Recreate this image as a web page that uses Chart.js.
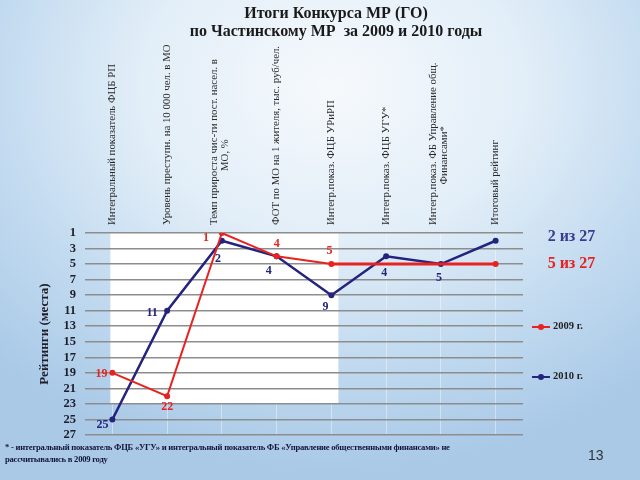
<!DOCTYPE html>
<html>
<head>
<meta charset="utf-8">
<script src="https://cdn.jsdelivr.net/npm/chart.js@4/dist/chart.umd.min.js"></script>
<style>
html,body{margin:0;padding:0;}
body{width:640px;height:480px;overflow:hidden;position:relative;
background:radial-gradient(ellipse 75% 80% at 52% 18%, #f6f9fc 0%, #e2eef8 40%, #c3dbf0 70%, #a9c9e7 100%);
font-family:"Liberation Serif",serif;}
#wrap{position:absolute;left:0;top:0;width:640px;height:480px;}
#title{position:absolute;left:0;top:4px;width:672px;text-align:center;font:bold 16px/18px "Liberation Serif",serif;color:#1a1a1a;}
#foot{position:absolute;left:5px;top:441px;font:bold 8.6px/12px "Liberation Serif",serif;color:#14143c;letter-spacing:-0.25px;}
#page{position:absolute;left:588px;top:447px;font:14px "Liberation Sans",sans-serif;color:#333;}
.leg{position:absolute;left:532px;font:bold 10.5px "Liberation Serif",serif;color:#222;}
.leg i{position:absolute;left:0;top:6px;width:18px;height:2px;}
.leg b{position:absolute;left:6px;top:4px;width:6px;height:6px;border-radius:50%;}
.leg span{position:absolute;left:21px;top:0;white-space:nowrap;}
</style>
</head>
<body>
<div id="wrap"><canvas id="c" width="640" height="480"></canvas></div>
<div id="title">Итоги Конкурса МР (ГО)<br>по Частинскому МР&nbsp; за 2009 и 2010 годы</div>
<div class="leg" style="top:320px"><i style="background:#e8231f"></i><b style="background:#e8231f"></b><span>2009 г.</span></div>
<div class="leg" style="top:370px"><i style="background:#24237e"></i><b style="background:#24237e"></b><span>2010 г.</span></div>
<div id="foot">* - интегральный показатель ФЦБ «УГУ» и интегральный показатель ФБ «Управление общественными финансами» не<br>рассчитывались в 2009 году</div>
<div id="page">13</div>
<script>
const categories = [
  "Интегральный показатель ФЦБ РП",
  "Уровень преступн. на 10 000 чел. в МО",
  ["Темп прироста чис-ти пост. насел. в", "                    МО, %"],
  "ФОТ по МО на 1 жителя, тыс. руб/чел.",
  "Интегр.показ. ФЦБ УРиРП",
  "Интегр.показ. ФЦБ УГУ*",
  ["Интегр.показ. ФБ Управление общ.", "               Финансами*"],
  "Итоговый рейтинг"
];
const rank2009 = [19, 22, 1, 4, 5, null, null, 5];
const rank2010 = [25, 11, 2, 4, 9, 4, 5, 2];
const yTicks = [1, 3, 5, 7, 9, 11, 13, 15, 17, 19, 21, 23, 25, 27];
const finalLabel2009 = "5 из 27";
const finalLabel2010 = "2 из 27";

const RED = '#e8231f', BLUE = '#24237e';

const whiteArea = {
  id: 'whiteArea',
  beforeDraw(chart) {
    const {ctx, chartArea, scales} = chart;
    const x0 = scales.x.getPixelForValue(0) - 2;
    const x1 = scales.x.getPixelForValue(4) + 7;
    const y1 = scales.y.getPixelForValue(23);
    ctx.save();
    ctx.fillStyle = '#ffffff';
    ctx.fillRect(x0, chartArea.top, x1 - x0, y1 - chartArea.top);
    ctx.restore();
  }
};

const pointLabels = {
  id: 'pointLabels',
  afterDatasetsDraw(chart) {
    const {ctx} = chart;
    const off2009 = [[-11, 1], [0, 11], [-16, 5], [0, -12], [-2, -13], null, null, null];
    const off2010 = [[-10, 5], [-15, 2], [-4, 18], [-8, 15], [-6, 12], [-2, 17], [-2, 14], null];
    ctx.save();
    ctx.font = 'bold 12px "Liberation Serif", serif';
    ctx.textAlign = 'center';
    ctx.textBaseline = 'middle';
    [[0, off2009, RED, rank2009], [1, off2010, BLUE, rank2010]].forEach(([di, offs, col, vals]) => {
      const meta = chart.getDatasetMeta(di);
      ctx.fillStyle = col;
      meta.data.forEach((pt, i) => {
        if (vals[i] == null || !offs[i]) return;
        ctx.fillText(String(vals[i]), pt.x + offs[i][0], pt.y + offs[i][1]);
      });
    });
    ctx.font = 'bold 16px "Liberation Serif", serif';
    ctx.textAlign = 'left';
    const last = categories.length - 1;
    const p10 = chart.getDatasetMeta(1).data[last];
    const p09 = chart.getDatasetMeta(0).data[last];
    ctx.fillStyle = '#3b3a8f';
    ctx.fillText(finalLabel2010, p10.x + 52, p10.y - 4);
    ctx.fillStyle = RED;
    ctx.fillText(finalLabel2009, p09.x + 52, p09.y + 0);
    ctx.restore();
  }
};

new Chart(document.getElementById('c'), {
  type: 'line',
  data: {
    labels: categories,
    datasets: [
      {label: '2009 г.', data: rank2009, borderColor: RED, backgroundColor: RED,
       borderWidth: 2, pointRadius: 3, pointBackgroundColor: RED, pointBorderWidth: 0,
       spanGaps: true, tension: 0,
       segment: {borderWidth: c => (c.p0DataIndex >= 4 ? 3 : 2)}},
      {label: '2010 г.', data: rank2010, borderColor: BLUE, backgroundColor: BLUE,
       borderWidth: 2.5, pointRadius: 3, pointBackgroundColor: BLUE, pointBorderWidth: 0,
       tension: 0}
    ]
  },
  options: {
    responsive: false,
    animation: false,
    layout: {padding: {top: 40, bottom: 45, right: 117, left: 0}},
    plugins: {legend: {display: false}, tooltip: {enabled: false}},
    scales: {
      x: {
        position: 'top',
        offset: true,
        grid: {display: true, color: 'rgba(255,255,255,0.4)', drawTicks: false, lineWidth: 1},
        border: {display: false},
        ticks: {autoSkip: false, minRotation: 90, maxRotation: 90, padding: 8, labelOffset: 15,
                color: '#2a2a2a',
                font: c => ({family: '"Liberation Serif", serif', size: 10.8,
                  lineHeight: Array.isArray(categories[c.index]) ? 1.06 : 1.39})},
        afterFit(s) { s.height = 193; }
      },
      y: {
        reverse: true,
        min: 1, max: 27,
        afterBuildTicks(s) { s.ticks = yTicks.map(v => ({value: v})); },
        grid: {color: '#8d8d8d', lineWidth: 1.5, drawTicks: false},
        border: {display: false},
        ticks: {autoSkip: false, padding: 9, color: '#1e1e2a', font: {family: '"Liberation Serif", serif', size: 12.5, weight: 'bold'}},
        title: {display: true, text: 'Рейтинги (места)', color: '#1e1e2a', padding: {top: 37, bottom: 0},
                font: {family: '"Liberation Serif", serif', size: 13, weight: 'bold'}},
        afterFit(s) { s.width = 85; }
      }
    }
  },
  plugins: [whiteArea, pointLabels]
});
</script>
</body>
</html>
